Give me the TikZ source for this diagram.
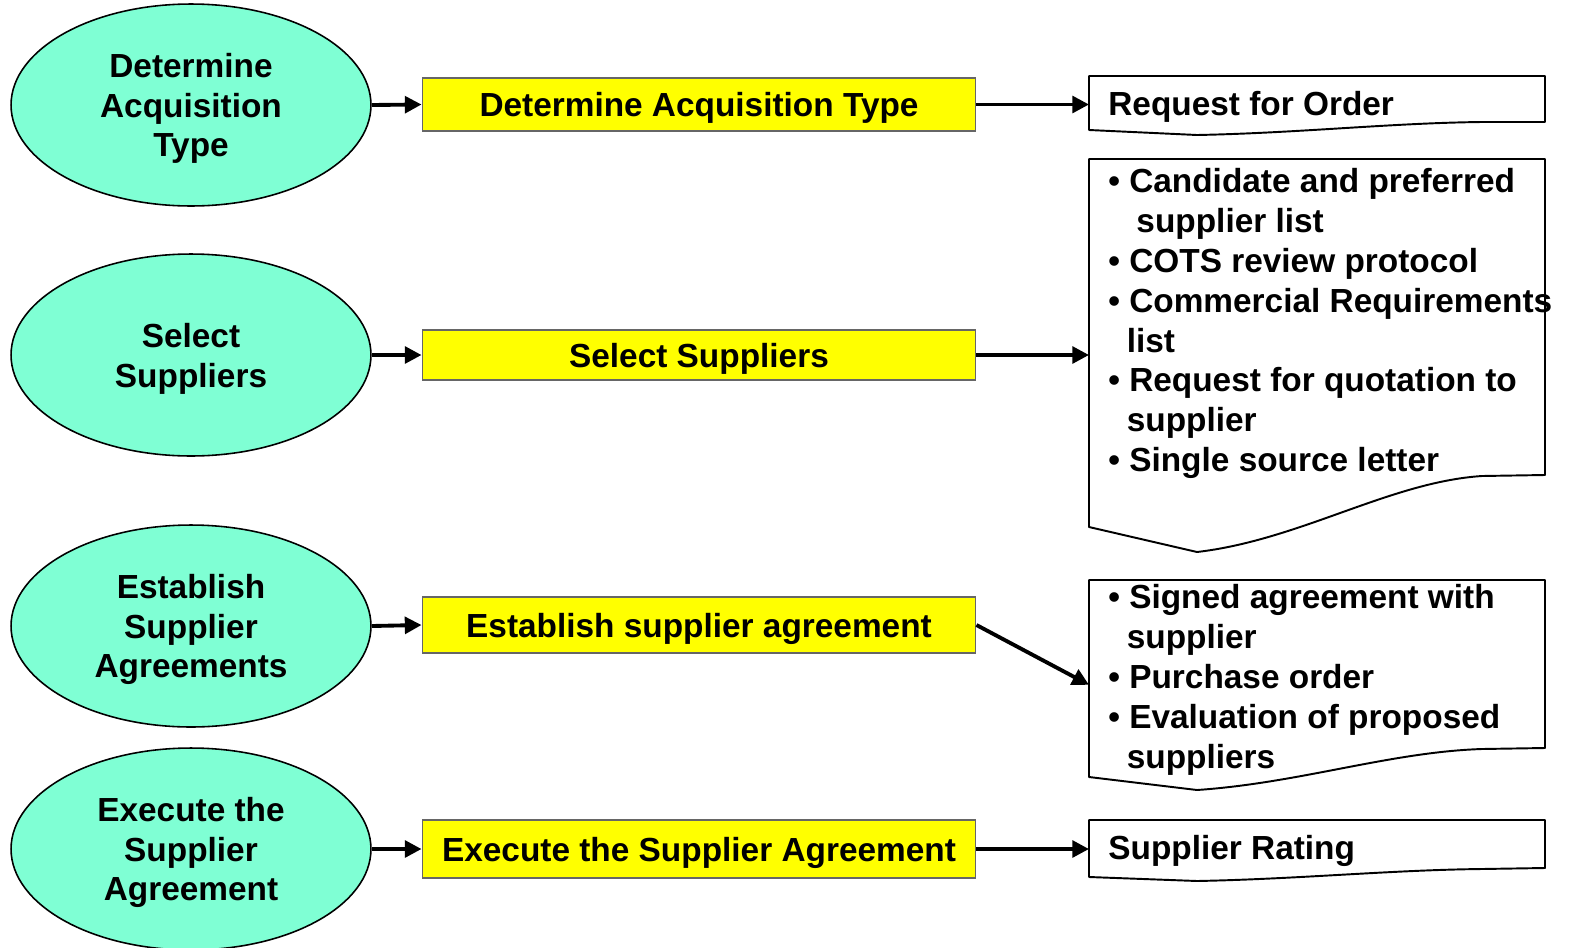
\documentclass[tikz,border=0pt]{standalone}
\usepackage{fontspec}
\setmainfont{Liberation Sans}
\usetikzlibrary{arrows.meta, positioning, calc, shapes.geometric}
\definecolor{colour_stage}{HTML}{7FFFD4}
\definecolor{colour_task}{HTML}{FFFF00}
\colorlet{colour_edge}{black!60}

\begin{document}
\begin{tikzpicture}
   [
      x=0.02cm, y=-0.02cm, % one unit per pixel, y running downwards
      stage/.style={ellipse, draw, line width=0.9pt, fill=colour_stage, minimum width=7.2cm, minimum height=4.04cm, inner sep=0pt, align=center, text depth=0pt, font=\fontsize{19}{22.7}\selectfont\bfseries},
      task/.style={rectangle, draw=colour_edge, line width=0.6pt, fill=colour_task, minimum width=11.08cm, inner sep=0pt, text depth=0pt, font=\fontsize{19}{22.7}\selectfont\bfseries},
      docframe/.style={rectangle, anchor=north west, minimum width=9.12cm, inner sep=0pt},
      doctext/.style={anchor=north west, inner sep=0pt, align=left, font=\fontsize{19}{22.7}\selectfont\bfseries},
      docline/.style={line width=1.1pt, line join=round},
      flow/.style={-{Triangle[length=9.5pt, width=9.5pt]}, line width=2.2pt}
   ]

   \useasboundingbox (0,0) rectangle (1569,947);

   % =======================================================
   % Left column: process stages
   % =======================================================

   \node[stage] (acq_stage) at (191,105) {Determine\\Acquisition\\Type};
   \node[stage] (sel_stage) at (191,355) {Select\\Suppliers};
   \node[stage] (agr_stage) at (191,626) {Establish\\Supplier\\Agreements};
   \node[stage] (exe_stage) at (191,849) {Execute the\\Supplier\\Agreement};

   % =======================================================
   % Middle column: tasks
   % =======================================================

   \node[task, minimum height=1.06cm] (acq_task) at (699,104.5) {Determine Acquisition Type};
   \node[task, minimum height=1.0cm] (sel_task) at (699,355) {Select Suppliers};
   \node[task, minimum height=1.12cm] (agr_task) at (699,625) {Establish supplier agreement};
   \node[task, minimum height=1.16cm] (exe_task) at (699,849) {Execute the Supplier Agreement};

   % =======================================================
   % Right column: work products (documents)
   % =======================================================

   \node[docframe, minimum height=1.08cm] (acq_doc) at (1089,76) {};
   \node[docframe, minimum height=7.36cm] (sel_doc) at (1089,159) {};
   \node[docframe, minimum height=3.94cm] (agr_doc) at (1089,580) {};
   \node[docframe, minimum height=1.14cm] (exe_doc) at (1089,820) {};

   % Wavy outlines
   \draw[docline] (1089,76) -- (1545,76) -- (1545,122) -- (1482,122)
      .. controls (1390,123) and (1300,133) .. (1197,135) -- (1089,130) -- cycle;
   \draw[docline] (1089,159) -- (1545,159) -- (1545,475) -- (1482,476)
      .. controls (1390,482) and (1300,540) .. (1197,552) -- (1089,527) -- cycle;
   \draw[docline] (1089,580) -- (1545,580) -- (1545,748) -- (1482,749)
      .. controls (1390,752) and (1300,783) .. (1197,790) -- (1089,777) -- cycle;
   \draw[docline] (1089,820) -- (1545,820) -- (1545,868) -- (1482,869)
      .. controls (1390,870) and (1300,879) .. (1197,881) -- (1089,877) -- cycle;

   % Texts
   \node[doctext] (acq_text) at ($(acq_doc.north west)+(19,15)$) {Request for Order};
   \node[doctext] (sel_text) at ($(sel_doc.north west)+(19,9)$)
      {• Candidate and preferred\\
       \hspace*{16pt}supplier list\\
       • COTS review protocol\\
       • Commercial Requirements\\
       \hspace*{10.5pt}list\\
       • Request for quotation to\\
       \hspace*{10.5pt}supplier\\
       • Single source letter};
   \node[doctext] (agr_text) at ($(agr_doc.north west)+(19,4)$)
      {• Signed agreement with\\
       \hspace*{10.5pt}supplier\\
       • Purchase order\\
       • Evaluation of proposed\\
       \hspace*{10.5pt}suppliers};
   \node[doctext] (exe_text) at ($(exe_doc.north west)+(19,15)$) {Supplier Rating};

   % =======================================================
   % Arrows
   % =======================================================

   \draw[flow] (acq_stage.east) -- (acq_task.west);
   \draw[flow] (sel_stage.east) -- (sel_task.west);
   \draw[flow] (agr_stage.east) -- (agr_task.west);
   \draw[flow] (exe_stage.east) -- (exe_task.west);

   \draw[flow] (acq_task.east) -- (acq_task.east -| acq_doc.west);
   \draw[flow] (sel_task.east) -- (sel_task.east -| sel_doc.west);
   \draw[flow] (agr_task.east) -- ($(agr_doc.west)+(0,6)$);
   \draw[flow] (exe_task.east) -- (exe_task.east -| exe_doc.west);

\end{tikzpicture}
\end{document}
